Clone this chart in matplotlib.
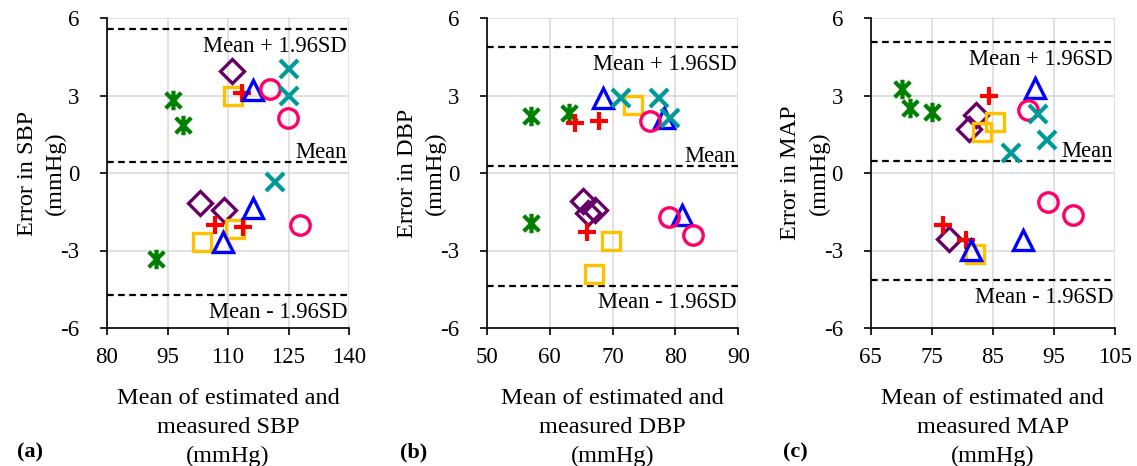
import matplotlib
matplotlib.use("Agg")
import matplotlib.pyplot as plt
from matplotlib.path import Path

plt.rcParams['font.family'] = ['Liberation Serif', 'DejaVu Serif']
plt.rcParams['axes.unicode_minus'] = False

# ---------------- data ----------------
series_colors = ['#008000', '#660066', '#FFC000', '#FF0000', '#0000FF', '#FF0066', '#009999']

# rows: green asterisk, purple diamond, orange square, red plus, blue triangle, pink circle, teal x
sbp_mean = [[96.3, 98.8, 92.2], [110.9, 103.1, 109.0], [111.3, 103.5, 111.8], [113.4, 106.8, 113.8],
            [116.3, 108.7, 116.3], [120.3, 124.8, 127.9], [125.0, 125.2, 121.7]]
sbp_err = [[2.84, 1.87, -3.31], [3.94, -1.17, -1.44], [2.97, -2.67, -2.15], [3.10, -2.02, -2.09],
           [3.23, -2.67, -1.37], [3.26, 2.13, -2.02], [4.01, 2.97, -0.34]]

dbp_mean = [[57.0, 63.1, 57.0], [65.3, 67.2, 66.0], [73.3, 69.7, 67.0], [64.0, 67.9, 65.9],
            [68.5, 78.2, 81.0], [76.0, 79.0, 82.8], [71.4, 77.4, 79.1]]
dbp_err = [[2.20, 2.33, -1.92], [-1.10, -1.45, -1.56], [2.62, -2.62, -3.92], [1.95, 2.01, -2.27],
           [2.92, 2.14, -1.62], [2.01, -1.71, -2.40], [2.92, 2.92, 2.14]]

map_mean = [[70.1, 71.4, 75.0], [82.3, 81.1, 77.9], [85.3, 83.2, 82.0], [84.4, 76.9, 80.6],
            [91.9, 89.9, 81.5], [90.8, 94.1, 98.2], [92.4, 93.9, 87.9]]
map_err = [[3.26, 2.51, 2.38], [2.25, 1.69, -2.56], [1.99, 1.60, -3.15], [2.97, -2.00, -2.60],
           [3.30, -2.60, -2.99], [2.45, -1.13, -1.63], [2.29, 1.28, 0.76]]

# mean, upper LoA, lower LoA
sbp_limits = [0.43, 5.57, -4.73]
dbp_limits = [0.26, 4.89, -4.37]
map_limits = [0.47, 5.09, -4.15]

sbp_xticks = [80, 95, 110, 125, 140]
dbp_xticks = [50, 60, 70, 80, 90]
map_xticks = [65, 75, 85, 95, 105]
yticks = [-6, -3, 0, 3, 6]

names = ['SBP', 'DBP', 'MAP']
panel_tags = ['(a)', '(b)', '(c)']

# ---------------- markers ----------------
asterisk = Path([(-1, -1), (1, 1), (-1, 1), (1, -1), (0, -1.25), (0, 1.25)],
                [Path.MOVETO, Path.LINETO, Path.MOVETO, Path.LINETO, Path.MOVETO, Path.LINETO])
marker_styles = [
    dict(marker=asterisk, ms=14, mew=3.0, fillstyle='none'),
    dict(marker='D', ms=12.5, mew=2.4, mfc='none'),
    dict(marker='s', ms=13, mew=2.4, mfc='none'),
    dict(marker='+', ms=13, mew=3.0),
    dict(marker='^', ms=15, mew=2.4, mfc='none'),
    dict(marker='o', ms=14, mew=2.4, mfc='none'),
    dict(marker='x', ms=13, mew=3.0),
]

fig = plt.figure(figsize=(11.37, 4.66), dpi=100)
H = 466.0
W = 1137.0
axes_px = [(107, 242), (487, 251.3), (870.7, 244.3)]
top_px, bot_px = 18, 328

panels = [(sbp_mean, sbp_err, sbp_limits, sbp_xticks),
          (dbp_mean, dbp_err, dbp_limits, dbp_xticks),
          (map_mean, map_err, map_limits, map_xticks)]
tag_x = [17, 400, 783]

for i, (xs, ys, lim, xt) in enumerate(panels):
    l, w = axes_px[i]
    ax = fig.add_axes([l / W, (H - bot_px) / H, w / W, (bot_px - top_px) / H])
    ax.set_xlim(xt[0], xt[-1])
    ax.set_ylim(-6, 6)
    ax.set_xticks(xt)
    ax.set_yticks(yticks)
    ax.grid(True, color='#D9D9D9', lw=1.1, zorder=0)
    ax.set_axisbelow(True)
    for s in ['top', 'right']:
        ax.spines[s].set_visible(False)
    for s in ['left', 'bottom']:
        ax.spines[s].set_linewidth(1.2)
        ax.spines[s].set_zorder(5)
    ax.tick_params(axis='both', direction='out', length=5, width=1.2, labelsize=16.5)
    ax.tick_params(axis='x', pad=9)
    ax.tick_params(axis='y', pad=15)

    mean, up, lo = lim
    for v in (mean, up, lo):
        ax.axhline(v, color='black', lw=1.6, ls=(0, (3, 2)), zorder=2)
    xr = xt[-1] - 0.008 * (xt[-1] - xt[0])
    ax.text(xr, up - 0.28, 'Mean + 1.96SD', ha='right', va='top', fontsize=16.3, zorder=3)
    ax.text(xr, mean + 0.15, 'Mean', ha='right', va='baseline', fontsize=16.3, zorder=3)
    ax.text(xr, lo - 0.25, 'Mean - 1.96SD', ha='right', va='top', fontsize=16.3, zorder=3)

    for k in range(len(xs)):
        st = marker_styles[k]
        ax.plot(xs[k], ys[k], ls='none', color=series_colors[k], mec=series_colors[k],
                zorder=4 + k * 0.01, **st)

    ax.set_xlabel('Mean of estimated and\nmeasured %s\n(mmHg)' % names[i], fontsize=17.5,
                  labelpad=14, linespacing=1.5)
    ax.set_ylabel('Error in %s\n(mmHg)' % names[i], fontsize=17.5, linespacing=1.45)
    ax.yaxis.set_label_coords(-41.0 / w, 0.5)

    fig.text(tag_x[i] / W, (H - 452) / H, panel_tags[i], fontsize=16, fontweight='bold',
             ha='left', va='center')

fig.savefig('out.png', dpi=100)
